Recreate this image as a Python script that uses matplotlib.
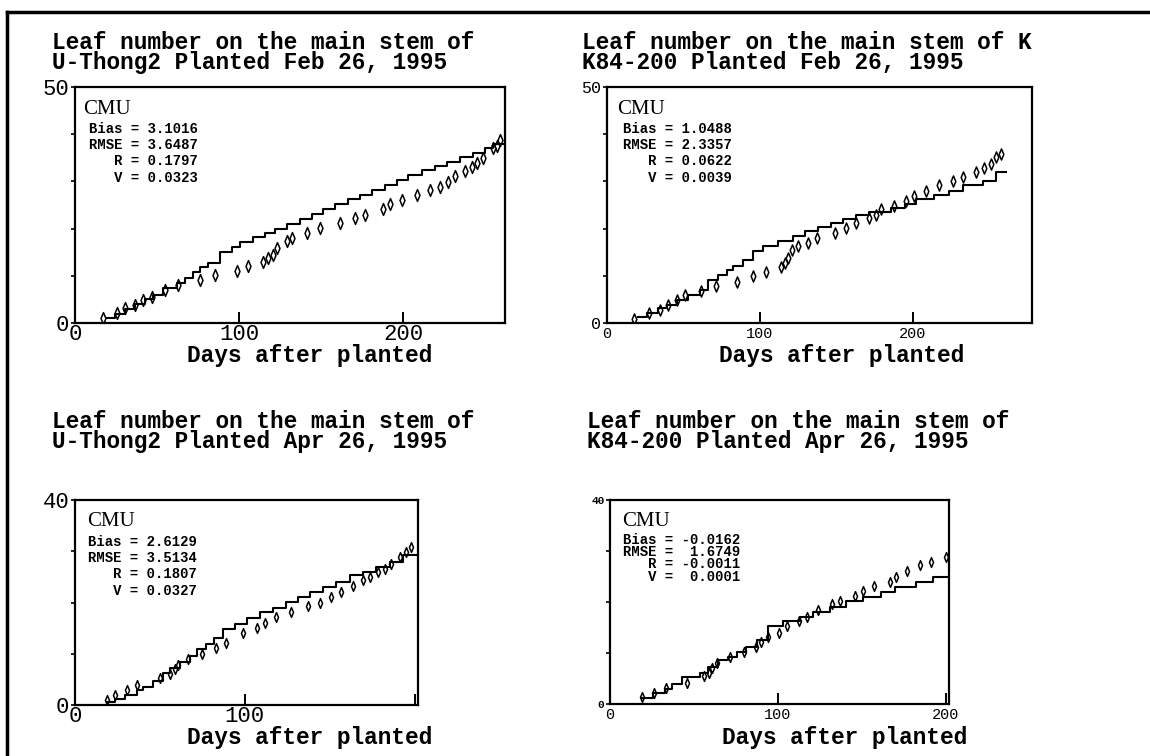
import numpy as np
import matplotlib
matplotlib.use("Agg")
import matplotlib.pyplot as plt
from matplotlib.path import Path
from matplotlib.lines import Line2D

plt.rcParams['font.family'] = ['Liberation Mono', 'DejaVu Sans Mono']

# Panel 1: U-Thong2, planted Feb 26
p1_sim_day = [19.3, 24.4, 30.5, 36.5, 42.6, 47.7, 53.8, 61.9, 67.0, 72.0, 76.0, 81.2,
              88.3, 95.4, 100.5, 108.6, 115.7, 122.0, 128.9, 137.0, 144.2, 151.3, 158.4,
              166.5, 173.6, 180.7, 188.8, 195.9, 203.0, 211.2, 219.3, 226.4, 234.5,
              242.6, 249.7, 254.8, 261.9]
p1_sim_leaf = [1.0, 2.0, 3.0, 4.0, 5.0, 6.0, 7.5, 8.5, 9.5, 10.7, 11.8, 12.8,
               15.0, 16.1, 17.1, 18.2, 19.0, 20.0, 21.0, 22.0, 23.1, 24.1, 25.2,
               26.2, 27.1, 28.2, 29.2, 30.3, 31.3, 32.4, 33.2, 34.1, 35.2,
               36.1, 37.0, 38.0, 38.0]
p1_obs_day = [17.3, 25.4, 30.5, 36.5, 41.6, 46.7, 54.8, 62.9, 76.1, 85.3, 98.5, 105.6,
              114.7, 117.8, 120.8, 122.8, 128.9, 132.0, 141.1, 149.2, 161.4, 170.6,
              176.6, 187.8, 191.9, 199.0, 208.1, 216.2, 222.3, 227.4, 231.5, 237.6,
              241.6, 244.7, 248.7, 254.8, 256.9, 258.9]
p1_obs_leaf = [1.1, 2.1, 3.2, 3.9, 4.9, 5.6, 7.0, 8.1, 9.2, 10.2, 11.1, 12.0,
               13.0, 13.7, 14.4, 15.8, 17.3, 18.0, 19.0, 20.1, 21.1, 22.2,
               22.9, 24.1, 25.2, 26.1, 27.1, 28.2, 28.9, 29.9, 31.1, 32.2,
               33.1, 33.8, 34.9, 37.0, 37.5, 38.7]

# Panel 2: K84-200, planted Feb 26
p2_sim_day = [20.5, 25.9, 33.5, 39.0, 45.5, 53.2, 60.8, 66.2, 72.8, 78.2, 82.6, 89.1,
              95.6, 102.2, 112.0, 121.8, 129.4, 138.1, 146.7, 154.3, 163.0, 171.7,
              185.9, 194.6, 202.2, 214.1, 223.9, 232.6, 245.7, 254.3, 260.9]
p2_sim_leaf = [1.3, 2.1, 3.2, 3.9, 4.9, 6.0, 7.0, 9.2, 10.2, 11.3, 12.1, 13.4,
               15.3, 16.3, 17.3, 18.5, 19.4, 20.4, 21.2, 22.0, 22.8, 23.6,
               24.4, 25.2, 26.2, 27.2, 28.0, 29.3, 30.1, 31.9, 31.9]
p2_obs_day = [17.4, 27.2, 34.8, 39.6, 45.7, 51.1, 61.3, 71.3, 84.8, 95.2, 103.9, 114.1,
              116.3, 118.5, 120.7, 125.0, 131.5, 137.4, 148.9, 156.5, 163.0, 171.7,
              175.7, 179.3, 188.0, 195.7, 201.1, 208.7, 217.4, 226.1, 232.6, 241.3,
              246.7, 251.1, 254.3, 257.6]
p2_obs_leaf = [0.9, 2.1, 2.8, 3.8, 4.8, 5.9, 6.7, 7.8, 8.7, 9.9, 10.9, 11.8,
               12.8, 13.8, 15.4, 16.3, 17.0, 18.1, 19.1, 20.1, 21.1, 22.2,
               22.9, 24.1, 24.8, 25.9, 27.0, 28.0, 29.3, 30.0, 31.0, 31.9,
               32.8, 33.7, 35.1, 35.8]

# Panel 3: U-Thong2, planted Apr 26
p3_sim_day = [18.6, 23.5, 29.4, 36.3, 40.2, 46.1, 51.9, 55.9, 62.0, 68.0, 72.0, 77.0,
              82.0, 87.3, 94.1, 101.0, 108.8, 116.7, 124.5, 131.4, 138.2, 146.1,
              153.9, 161.8, 169.6, 177.5, 185.3, 193.1, 202.0]
p3_sim_leaf = [0.6, 1.2, 2.0, 2.9, 3.6, 4.6, 6.2, 7.2, 8.3, 9.5, 11.0, 12.0,
               13.0, 14.9, 15.9, 16.9, 18.2, 19.0, 20.1, 21.1, 22.1, 23.1,
               24.0, 25.3, 26.0, 26.9, 27.9, 29.2, 29.2]
p3_obs_day = [18.6, 23.5, 30.4, 36.3, 50.0, 55.9, 58.8, 60.8, 66.7, 74.5, 83.3, 89.2,
              99.0, 106.9, 111.8, 118.6, 127.5, 137.3, 144.1, 151.0, 156.9, 163.7,
              169.6, 173.5, 178.4, 182.4, 186.3, 191.2, 195.1, 198.0]
p3_obs_leaf = [1.0, 1.9, 2.9, 3.9, 5.2, 6.0, 7.1, 7.8, 8.9, 9.9, 11.2, 12.1,
               14.0, 15.1, 16.0, 17.2, 18.2, 19.3, 20.0, 21.1, 22.1, 23.2,
               24.4, 25.0, 26.0, 26.6, 27.6, 28.9, 29.9, 30.8]

# Panel 4: K84-200, planted Apr 26
p4_sim_day = [18.8, 25.8, 32.7, 36.7, 42.7, 53.6, 58.5, 64.5, 70.4, 75.4, 81.3, 87.3,
              94.2, 103.2, 113.1, 121.0, 131.0, 140.9, 150.8, 161.7, 169.6, 182.5,
              192.5, 201.4]
p4_sim_leaf = [1.1, 2.1, 2.9, 3.9, 5.2, 6.0, 7.2, 8.6, 9.3, 10.1, 11.1, 12.5,
               15.2, 16.3, 17.1, 18.1, 19.1, 20.1, 21.0, 22.0, 23.0, 24.0,
               25.0, 25.0]
p4_obs_day = [18.8, 26.2, 33.3, 46.0, 55.9, 59.1, 60.9, 63.9, 71.8, 79.8, 86.9, 89.7,
              94.2, 100.8, 105.6, 112.7, 117.5, 124.0, 132.0, 137.0, 145.8, 150.8,
              157.1, 167.0, 170.6, 176.9, 184.5, 191.4, 200.4]
p4_obs_leaf = [1.4, 2.1, 3.1, 4.1, 5.4, 6.0, 7.0, 8.1, 9.3, 10.1, 11.1, 12.2,
               13.1, 14.0, 15.2, 16.2, 17.1, 18.4, 19.6, 20.1, 21.1, 22.1,
               23.2, 24.0, 25.0, 26.0, 27.2, 27.8, 28.9]

titles = [
    ["Leaf number on the main stem of", "U-Thong2 Planted Feb 26, 1995"],
    ["Leaf number on the main stem of K", "K84-200 Planted Feb 26, 1995"],
    ["Leaf number on the main stem of", "U-Thong2 Planted Apr 26, 1995"],
    ["Leaf number on the main stem of", "K84-200 Planted Apr 26, 1995"],
]
stats = [
    ["Bias = 3.1016", "RMSE = 3.6487", "   R = 0.1797", "   V = 0.0323"],
    ["Bias = 1.0488", "RMSE = 2.3357", "   R = 0.0622", "   V = 0.0039"],
    ["Bias = 2.6129", "RMSE = 3.5134", "   R = 0.1807", "   V = 0.0327"],
    ["Bias = -0.0162", "RMSE =  1.6749", "   R = -0.0011", "   V =  0.0001"],
]

W, H = 1150, 756
fig = plt.figure(figsize=(W / 100, H / 100), dpi=100)


def px(x, y):
    return x / W, 1 - y / H


def box(l, t, r, b):
    return [l / W, 1 - b / H, (r - l) / W, (b - t) / H]


diamond = Path([(0, -1), (0.42, 0), (0, 1), (-0.42, 0), (0, -1)],
               [Path.MOVETO, Path.LINETO, Path.LINETO, Path.LINETO, Path.CLOSEPOLY])

panels = [
    dict(rect=box(75, 87, 505, 323), xmax=262, ymax=50, sim=(p1_sim_day, p1_sim_leaf),
         obs=(p1_obs_day, p1_obs_leaf), xlab=["0", "100", "200"], big=True, ms=8.5,
         title_xy=(52, 31), cmu_xy=(83, 110), st_xy=(89, 122), st_ls=1.2,
         xlab_xy=(310, 362)),
    dict(rect=box(607, 87, 1032, 323), xmax=278, ymax=50, sim=(p2_sim_day, p2_sim_leaf),
         obs=(p2_obs_day, p2_obs_leaf), xlab=["0", "100", "200"], big=False, ms=8,
         title_xy=(582, 31), cmu_xy=(617, 110), st_xy=(623, 122), st_ls=1.2,
         xlab_xy=(842, 362)),
    dict(rect=box(75, 500, 418, 705), xmax=202, ymax=40, sim=(p3_sim_day, p3_sim_leaf),
         obs=(p3_obs_day, p3_obs_leaf), xlab=["0", "100", ""], big=True, ms=7,
         title_xy=(52, 410), cmu_xy=(87, 521), st_xy=(88, 535), st_ls=1.2,
         xlab_xy=(310, 744)),
    dict(rect=box(610, 500, 949, 704), xmax=202, ymax=40, sim=(p4_sim_day, p4_sim_leaf),
         obs=(p4_obs_day, p4_obs_leaf), xlab=["0", "100", "200"], big=False, ms=7,
         title_xy=(587, 410), cmu_xy=(622, 522), st_xy=(623, 533), st_ls=0.84,
         xlab_xy=(845, 744)),
]

for i, p in enumerate(panels):
    ax = fig.add_axes(p["rect"])
    ax.step(p["sim"][0], p["sim"][1], where="post", color="black", lw=1.5)
    ax.plot(p["obs"][0], p["obs"][1], linestyle="none", marker=diamond,
            markersize=p["ms"], mfc="none", mec="black", mew=1.1)
    ax.set_xlim(0, p["xmax"])
    ax.set_ylim(0, p["ymax"])
    for s in ax.spines.values():
        s.set_linewidth(1.6)

    ax.set_xticks([0, 100, 200])
    ax.set_xticklabels(p["xlab"])
    yt = list(range(0, p["ymax"] + 1, 10))
    ax.set_yticks(yt)
    ax.set_yticklabels(["0"] + [""] * (len(yt) - 2) + [str(p["ymax"])])
    if p["big"]:
        ax.tick_params(axis="x", direction="in", length=8, width=1.4, labelsize=16, pad=1)
        ax.tick_params(axis="y", direction="out", length=3, width=1.2, labelsize=16, pad=1)
    else:
        ax.tick_params(axis="x", direction="in", length=8, width=1.4, labelsize=11, pad=3)
        ax.tick_params(axis="y", direction="out", length=3, width=1.2,
                       labelsize=12 if i == 1 else 8, pad=1)
        if i == 3:
            for lab in ax.get_yticklabels():
                lab.set_fontweight("bold")

    tx, ty = p["title_xy"]
    fig.text(*px(tx, ty), "\n".join(titles[i]), fontsize=16.4, fontweight="bold",
             va="top", linespacing=0.86)

    fig.text(*px(*p["cmu_xy"]), "CMU", family="Liberation Serif", fontsize=15, va="center")
    fig.text(*px(*p["st_xy"]), "\n".join(stats[i]), fontsize=10, fontweight="bold",
             va="top", linespacing=p["st_ls"])

    fig.text(*px(*p["xlab_xy"]), "Days after planted", fontsize=16.4, fontweight="bold",
             ha="center", va="baseline")

# outer frame of the scanned page
fig.add_artist(Line2D([7 / W, 1.0], [1 - 12 / H, 1 - 12 / H], color="black", lw=2.5))
fig.add_artist(Line2D([7 / W, 7 / W], [0.0, 1 - 12 / H], color="black", lw=2.5))

fig.savefig("out.png", dpi=100)
